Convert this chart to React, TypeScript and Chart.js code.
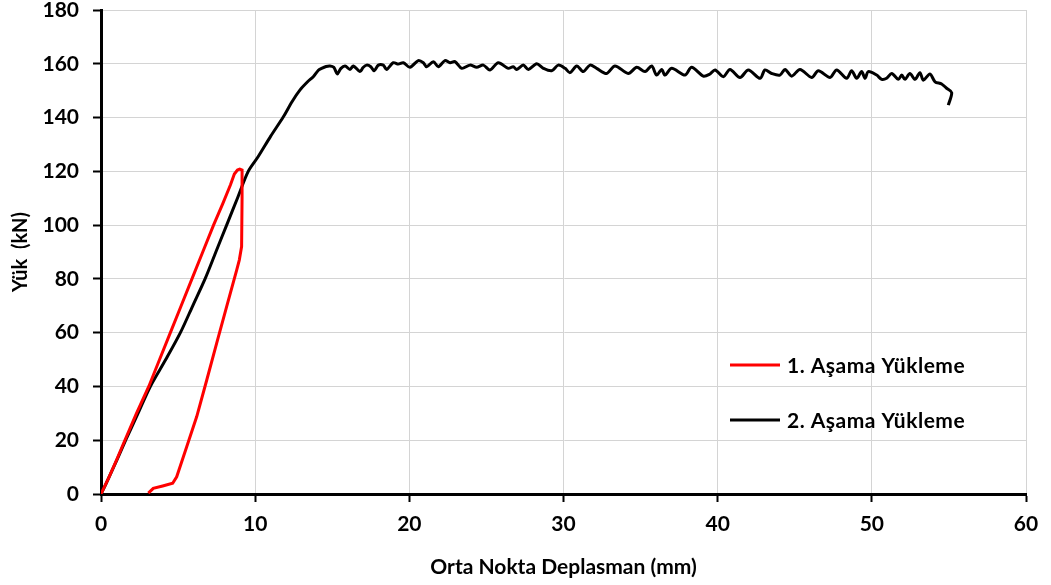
import React, { useEffect, useRef } from "react";
import { Chart, registerables } from "chart.js";

Chart.register(...registerables);

const stage1X = [0, 0.5, 1.0, 1.55, 2.3, 3.1, 3.8, 4.5, 5.2, 5.9, 6.6, 7.3, 7.9, 8.4, 8.65, 8.85, 9.0, 9.15, 9.15, 9.12, 8.97, 8.8, 8.15, 7.5, 6.86, 6.21, 5.56, 4.91, 4.65, 4.0, 3.39, 3.07];
const stage1Y = [0, 6, 12.5, 20, 30, 40, 50, 60, 70, 80, 90, 100, 108, 115, 119, 120.5, 120.8, 120.5, 110, 92, 87, 83.3, 69.7, 56, 42.4, 28.8, 17.6, 6.4, 4, 3, 2.1, 0.3];

const stage2X = [0, 0.3, 0.7, 1.1, 1.6, 2.4, 3.2, 4.2, 5.15, 5.95, 6.75, 7.45, 8.15, 8.85, 9.55, 10.2, 11.0, 11.83, 12.4, 12.9, 13.4, 13.77, 14.1, 14.31, 14.6, 14.85, 15.1, 15.33, 15.55, 15.83, 16.15, 16.37, 16.8, 17.0, 17.23, 17.5, 17.71, 17.99, 18.31, 18.53, 18.96, 19.28, 19.61, 20.04, 20.58, 20.91, 21.12, 21.56, 21.88, 22.31, 22.64, 22.96, 23.4, 23.93, 24.37, 24.8, 25.23, 25.77, 26.42, 26.74, 26.96, 27.39, 27.72, 28.26, 28.69, 29.23, 29.66, 30.1, 30.42, 30.86, 31.28, 31.72, 32.15, 32.8, 33.34, 34.2, 34.75, 35.29, 35.72, 36.04, 36.37, 36.58, 37.02, 37.88, 38.31, 39.07, 39.5, 39.83, 40.37, 40.8, 41.45, 41.99, 42.75, 43.07, 43.5, 44.04, 44.37, 44.8, 45.34, 46.1, 46.53, 47.29, 47.72, 48.37, 48.69, 49.02, 49.34, 49.56, 49.77, 50.31, 50.64, 50.96, 51.29, 51.72, 51.94, 52.15, 52.47, 52.8, 53.12, 53.34, 53.77, 54.1, 54.53, 54.85, 55.18, 54.96];
const stage2Y = [0, 3.5, 8.5, 13.5, 20, 30, 40, 50, 60, 70, 80, 90, 100, 110, 120, 125.5, 133, 140.3, 146, 150.2, 153.3, 155.2, 157.6, 158.3, 159.0, 159.2, 158.7, 156.2, 158.2, 159.2, 157.9, 159.2, 157.1, 158.6, 159.5, 158.9, 157.4, 159.5, 159.5, 157.9, 160.4, 159.9, 160.4, 158.7, 161.2, 160.4, 158.9, 160.8, 158.9, 161.2, 160.4, 160.8, 158.3, 159.5, 158.7, 159.5, 157.7, 160.4, 158.3, 158.9, 157.9, 159.5, 157.9, 160.0, 158.3, 157.4, 159.5, 158.3, 156.7, 159.2, 157.1, 159.5, 158.3, 156.4, 159.2, 156.4, 158.7, 157.1, 159.2, 155.8, 157.9, 155.8, 158.3, 155.8, 158.7, 155.4, 156.2, 157.7, 155.2, 157.9, 154.9, 157.7, 154.6, 157.7, 156.4, 155.8, 157.9, 155.4, 157.9, 154.9, 157.4, 154.9, 157.7, 154.6, 157.4, 154.6, 157.1, 154.6, 157.1, 155.8, 154.2, 154.6, 156.4, 154.2, 155.8, 154.2, 156.4, 154.2, 156.7, 153.9, 156.2, 153.3, 152.5, 150.9, 149.3, 144.6];

const seriesNames = ["1. Aşama Yükleme", "2. Aşama Yükleme"];
const seriesColors = ["#ff0000", "#000000"];
const xTitle = "Orta Nokta Deplasman (mm)";
const yTitle = "Yük  (kN)";

const FONT = "Lato, 'Open Sans', sans-serif";

const legendPlugin = {
  id: "insideLegend",
  afterDraw(chart: any) {
    const ctx = chart.ctx;
    const area = chart.chartArea;
    const x0 = area.left + 629;
    const rows = [area.top + 355, area.top + 410];
    ctx.save();
    ctx.font = `bold 21px ${FONT}`;
    ctx.textBaseline = "middle";
    ctx.textAlign = "left";
    seriesNames.forEach((name, i) => {
      ctx.strokeStyle = seriesColors[i];
      ctx.lineWidth = 3;
      ctx.beginPath();
      ctx.moveTo(x0, rows[i]);
      ctx.lineTo(x0 + 50, rows[i]);
      ctx.stroke();
      ctx.fillStyle = "#000";
      (ctx as any).letterSpacing = "0.5px";
      ctx.fillText(name, x0 + 57, rows[i] + 1);
    });
    ctx.restore();
  },
};

export default function App() {
  const ref = useRef<HTMLCanvasElement | null>(null);
  useEffect(() => {
    if (!ref.current) return;
    const toPts = (xs: number[], ys: number[]) => xs.map((x, i) => ({ x, y: ys[i] }));
    const tickFont = { family: FONT, size: 21, weight: "bold", lineHeight: 1 };
    const chart = new Chart(ref.current, {
      type: "line",
      data: {
        datasets: [
          {
            label: seriesNames[0],
            data: toPts(stage1X, stage1Y),
            borderColor: seriesColors[0],
            borderWidth: 3,
            pointRadius: 0,
            tension: 0,
            fill: false,
          },
          {
            label: seriesNames[1],
            data: toPts(stage2X, stage2Y),
            borderColor: seriesColors[1],
            borderWidth: 3,
            pointRadius: 0,
            tension: 0.3,
            fill: false,
          },
        ],
      },
      options: {
        animation: false,
        responsive: false,
        devicePixelRatio: 1,
        parsing: false,
        layout: { padding: { top: 10, right: 25, left: 0, bottom: 0 } },
        plugins: { legend: { display: false }, tooltip: { enabled: false } },
        scales: {
          x: {
            type: "linear",
            min: 0,
            max: 60,
            afterFit: (s: any) => { s.height = 91; s.paddingLeft = 0; s.paddingRight = 0; },
            ticks: { stepSize: 10, color: "#000", font: tickFont, padding: 12 },
            grid: { color: "#d4d4d4", lineWidth: 1, tickColor: "#000", tickLength: 8, tickWidth: 2 },
            border: { color: "#000", width: 3 },
            title: { display: true, text: xTitle, color: "#000", font: { family: FONT, size: 21, weight: "bold", lineHeight: 1.2 }, padding: { top: 0, bottom: 5 } },
          },
          y: {
            type: "linear",
            min: 0,
            max: 180,
            afterFit: (s: any) => { s.width = 101; s.paddingTop = 0; s.paddingBottom = 0; },
            ticks: { stepSize: 20, color: "#000", font: tickFont, padding: 14 },
            grid: { color: "#d4d4d4", lineWidth: 1, tickColor: "#000", tickLength: 8, tickWidth: 2 },
            border: { color: "#000", width: 3 },
            title: { display: true, text: yTitle, color: "#000", font: { family: FONT, size: 20, weight: "bold", lineHeight: 1.2 }, padding: { top: 9, bottom: 0 } },
          },
        },
      },
      plugins: [legendPlugin],
    } as any);
    return () => chart.destroy();
  }, []);
  return (
    <div style={{ position: "fixed", left: 0, top: 0, width: 1051, height: 585, background: "#fff" }}>
      <canvas ref={ref} width={1051} height={585} />
    </div>
  );
}
